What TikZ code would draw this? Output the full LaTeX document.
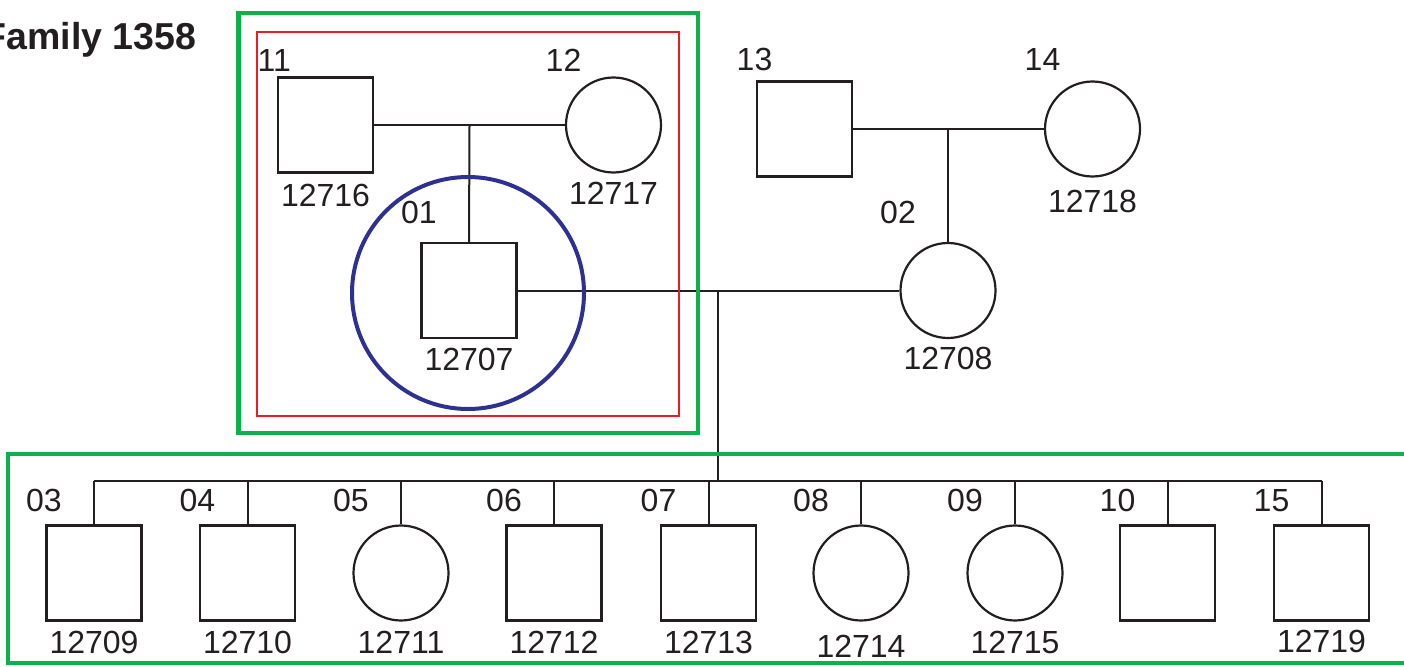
\documentclass[tikz,border=0pt]{standalone}
\usepackage{fontspec}
\setmainfont{Liberation Sans}
\usetikzlibrary{calc}
\definecolor{pline}{RGB}{35,31,32}
\definecolor{fgreen}{RGB}{13,177,75}
\definecolor{fred}{RGB}{237,28,36}
\definecolor{fblue}{RGB}{46,49,146}
\tikzset{
  male/.style={draw=pline, line width=2.2pt, rectangle, minimum size=95pt, inner sep=0pt},
  female/.style={draw=pline, line width=2.2pt, circle, minimum size=95pt, inner sep=0pt},
  link/.style={draw=pline, line width=2pt},
  numlbl/.style={anchor=base west, inner sep=0pt, text=pline, font=\fontsize{32}{38}\selectfont},
  idlbl/.style={anchor=base, inner sep=0pt, text=pline, font=\fontsize{32}{38}\selectfont},
  gframe/.style={draw=fgreen, line width=4.5pt},
}
\begin{document}
\begin{tikzpicture}[x=1pt,y=-1pt]
\useasboundingbox (0,0) rectangle (1404,666);
\clip (0,0) rectangle (1404,666);
% title
\node[anchor=base west, inner sep=0pt, text=pline, font=\fontsize{37.5}{44}\selectfont\bfseries] (title) at (-16.4,50) {Family 1358};
% generation I
\node[male] (I11) at (325.5,125) {};
\node[female] (I12) at (613.5,125) {};
\node[male] (I13) at (804.5,129) {};
\node[female] (I14) at (1092.5,129) {};
% generation II
\node[male] (I01) at (469,290.5) {};
\node[female] (I02) at (948,290.5) {};
% children
\foreach \n/\x/\s in {03/94/male,04/247.5/male,05/401/female,06/554/male,07/708.5/male,08/861/female,09/1015/female,10/1167.5/male,15/1321.5/male}{
  \node[\s] (c\n) at (\x,573) {};
  \node[numlbl] (n\n) at (\x-68,511) {\n};
}
% labels
\node[numlbl] (n11) at (257.5,72) {11};
\node[numlbl] (n12) at (545.5,72) {12};
\node[numlbl] (n13) at (736.5,71) {13};
\node[numlbl] (n14) at (1024.5,71) {14};
\node[numlbl] (n01) at (401,223) {01};
\node[numlbl] (n02) at (880,223) {02};
\node[idlbl] (d16) at (325.5,206) {12716};
\node[idlbl] (d17) at (613.5,204) {12717};
\node[idlbl] (d18) at (1092.5,212) {12718};
\node[idlbl] (d07) at (469,370) {12707};
\node[idlbl] (d08) at (948,369) {12708};
\node[idlbl] (d09) at (94,653) {12709};
\node[idlbl] (d10) at (247.5,653) {12710};
\node[idlbl] (d11) at (401,653) {12711};
\node[idlbl] (d12) at (554,653) {12712};
\node[idlbl] (d13) at (708.5,653) {12713};
\node[idlbl] (d14) at (861,657) {12714};
\node[idlbl] (d15) at (1015,653) {12715};
\node[idlbl] (d19) at (1321.5,652) {12719};
% connectors
\coordinate (m1) at ($(I11.east)!0.5!(I12.west)$);
\draw[link] (I11.east) -- (I12.west);
\draw[link] (m1) -- (I01.north);
\coordinate (m2) at (948,129);
\draw[link] (I13.east) -- (I14.west);
\draw[link] (m2) -- (I02.north);
\coordinate (m3) at (718,290.5);
\coordinate (sib) at (718,481);
\draw[link] (I01.east) -- (I02.west);
\draw[link] (m3) -- (sib);
\draw[link] (c03 |- sib) -- (c15 |- sib);
\foreach \n in {03,04,05,06,07,08,09,10,15}{
  \draw[link] (c\n |- sib) -- (c\n.north);
}
% frames
\draw[draw=fred, line width=2pt] (257,32) rectangle (679,416);
\draw[gframe] (238.5,13) rectangle (698,433);
\draw[gframe] (8,454) rectangle (1420,663);
\draw[draw=fblue, line width=4pt] (468,293) circle (116);
\end{tikzpicture}
\end{document}
